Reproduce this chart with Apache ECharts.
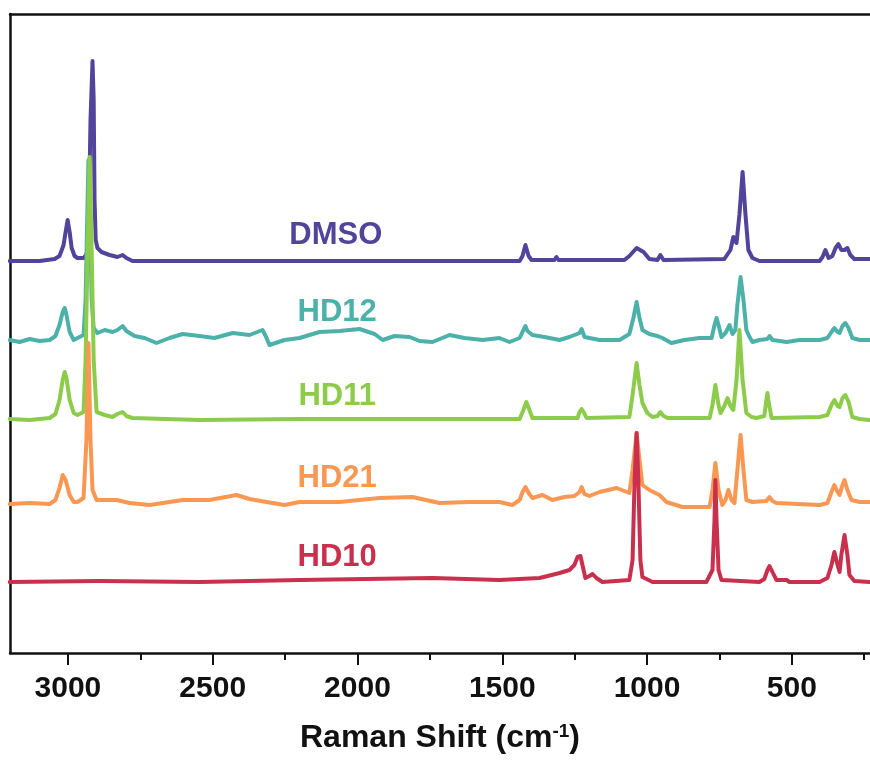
<!DOCTYPE html>
<html>
<head>
<meta charset="utf-8">
<script src="https://cdn.jsdelivr.net/npm/echarts@6/dist/echarts.min.js"></script>
<style>
  html, body { margin: 0; padding: 0; background: #fff; }
  #chart { width: 870px; height: 764px; }
</style>
</head>
<body>
<div id="chart"></div>
<script>
// Raman spectra, [wavenumber, intensity] (intensity in arbitrary offset units)
const dmso = [[3201,392],[3098,392],[3046,394],[3029,397],[3015,408],[3008,421],[3001,433],[2994,421],[2987,405],[2977,397],[2967,395],[2946,395],[2936,398],[2929,413],[2922,533],[2915,592],[2911,553],[2908,453],[2904,413],[2898,405],[2884,401],[2856,398],[2829,396],[2811,398],[2798,395],[2777,392],[2200,392],[1440,392],[1430,397],[1420,408],[1409,397],[1399,393],[1320,393],[1313,396],[1306,393],[1078,393],[1061,397],[1036,405],[1012,401],[992,394],[964,393],[954,398],[943,393],[733,394],[712,403],[702,416],[691,410],[681,438],[670,481],[660,438],[650,403],[636,395],[612,392],[404,392],[394,396],[384,403],[373,395],[360,397],[349,405],[339,409],[329,403],[318,403],[308,405],[298,398],[284,394],[232,394],[197,394]];

const hd12 = [[3201,313],[3167,311],[3132,314],[3098,312],[3063,313],[3043,317],[3029,328],[3018,341],[3011,345],[3005,338],[2994,321],[2980,313],[2967,315],[2946,318],[2939,353],[2932,453],[2929,493],[2925,453],[2918,353],[2911,325],[2898,320],[2873,323],[2846,321],[2829,323],[2811,327],[2798,322],[2770,317],[2735,315],[2694,310],[2649,315],[2604,319],[2545,317],[2494,315],[2431,320],[2373,318],[2328,323],[2317,317],[2304,308],[2252,313],[2200,315],[2131,321],[2062,322],[1993,324],[1941,319],[1913,313],[1872,317],[1820,316],[1786,312],[1741,311],[1682,318],[1630,315],[1568,313],[1510,315],[1475,311],[1440,315],[1427,323],[1420,327],[1413,322],[1396,318],[1354,316],[1302,313],[1268,316],[1233,320],[1226,324],[1216,316],[1164,313],[1095,313],[1061,319],[1047,335],[1036,351],[1026,335],[1016,323],[992,319],[964,317],[947,315],[916,310],[871,313],[819,315],[777,315],[767,328],[760,335],[753,328],[743,316],[729,320],[715,328],[705,319],[695,323],[688,348],[677,376],[667,353],[657,323],[646,316],[636,311],[612,313],[584,314],[577,317],[567,313],[518,311],[474,313],[404,313],[377,315],[363,321],[353,325],[342,321],[335,320],[325,327],[315,330],[304,325],[291,315],[266,313],[232,313],[197,313]];

const hd11 = [[3201,234],[3132,233],[3063,235],[3043,239],[3029,253],[3018,273],[3011,281],[3005,275],[2994,253],[2980,240],[2967,238],[2946,241],[2939,293],[2932,403],[2925,496],[2918,403],[2911,293],[2901,241],[2873,238],[2846,236],[2829,239],[2811,241],[2798,237],[2777,235],[2545,233],[2200,234],[1855,234],[1440,234],[1427,243],[1417,251],[1406,243],[1396,235],[1240,235],[1233,241],[1226,244],[1219,241],[1209,235],[1061,236],[1050,258],[1036,290],[1026,268],[1016,250],[999,240],[981,236],[964,237],[954,241],[943,237],[929,235],[784,235],[774,248],[764,268],[753,248],[746,240],[733,247],[722,255],[712,247],[702,243],[691,273],[681,323],[670,273],[657,240],[639,236],[622,235],[595,237],[588,253],[584,260],[581,253],[570,235],[404,236],[377,238],[363,248],[353,253],[342,247],[335,246],[325,255],[315,258],[304,251],[291,236],[266,234],[232,233],[197,233]];

const hd21 = [[3201,149],[3132,150],[3063,149],[3043,153],[3029,165],[3018,178],[3008,173],[2994,158],[2980,151],[2967,151],[2946,155],[2936,213],[2929,310],[2922,213],[2915,163],[2901,153],[2873,153],[2832,153],[2787,150],[2718,148],[2649,151],[2604,153],[2511,153],[2418,158],[2373,154],[2314,151],[2252,148],[2200,151],[2062,151],[1924,155],[1810,156],[1717,150],[1613,151],[1510,151],[1465,148],[1440,153],[1430,161],[1420,166],[1409,160],[1396,155],[1361,158],[1327,153],[1285,156],[1251,157],[1233,161],[1226,166],[1216,159],[1199,157],[1164,161],[1105,165],[1061,160],[1050,183],[1036,220],[1026,193],[1016,168],[992,163],[957,158],[933,151],[878,146],[784,146],[774,163],[764,190],[753,163],[740,148],[729,153],[719,163],[708,153],[698,150],[688,183],[677,218],[667,183],[657,153],[636,151],[588,152],[577,156],[567,152],[553,150],[404,148],[377,150],[363,161],[353,168],[342,161],[335,158],[325,168],[318,173],[308,163],[294,153],[266,151],[232,151],[197,151]];

const hd10 = [[3201,71],[2891,72],[2545,71],[2200,73],[1741,75],[1510,73],[1371,75],[1302,80],[1268,83],[1251,88],[1240,96],[1230,97],[1223,88],[1213,75],[1199,77],[1188,79],[1175,75],[1154,71],[1061,73],[1050,93],[1043,173],[1036,220],[1030,173],[1023,93],[1016,76],[981,71],[795,71],[774,83],[767,133],[764,173],[760,133],[753,83],[743,73],[612,71],[595,74],[584,83],[577,87],[567,81],[553,73],[518,73],[508,71],[404,71],[377,75],[363,88],[353,101],[342,88],[335,81],[329,98],[318,118],[308,98],[301,78],[284,72],[232,71],[197,71]];

const names = ['DMSO', 'HD12', 'HD11', 'HD21', 'HD10'];
const colors = ['#53449b', '#4cb2a9', '#8ccc4a', '#fa9752', '#c9304d'];
const labelX = [2075, 2070, 2070, 2070, 2070];
const labelY = [418, 341, 257, 175, 96];
const majorTicks = [500, 1000, 1500, 2000, 2500, 3000];
const minorTicks = [250, 750, 1250, 1750, 2250, 2750];

const spectra = [dmso, hd12, hd11, hd21, hd10];
const font = 'Liberation Sans, Arial, sans-serif';
const xMin = 230;   // right edge of the canvas cuts the frame
const xMax = 3200;

let chart = echarts.init(document.getElementById('chart'));
chart.setOption({
  animation: false,
  grid: {
    left: 10,
    right: 0,
    top: 14,
    bottom: 111
  },
  xAxis: [
    {
      type: 'value',
      min: xMin,
      max: xMax,
      inverse: true,
      name: 'Raman Shift (cm{sup|-1})',
      nameLocation: 'middle',
      nameGap: 69,
      nameTextStyle: {
        fontFamily: font,
        fontSize: 32,
        fontWeight: 'bold',
        color: '#111',
        rich: {
          sup: { fontFamily: font, fontSize: 19, fontWeight: 'bold', color: '#111', verticalAlign: 'top', padding: [0, 0, 12, 0] }
        }
      },
      axisLine: { show: true, lineStyle: { color: '#111', width: 2.5 } },
      axisTick: { show: true, customValues: majorTicks, length: 12, lineStyle: { color: '#111', width: 2 } },
      axisLabel: {
        customValues: majorTicks,
        formatter: v => String(v),
        margin: 21,
        fontFamily: font,
        fontSize: 30,
        fontWeight: 'bold',
        color: '#111'
      },
      splitLine: { show: false }
    },
    {
      // minor ticks
      type: 'value',
      min: xMin,
      max: xMax,
      inverse: true,
      position: 'bottom',
      axisLine: { show: false },
      axisTick: { show: true, customValues: minorTicks, length: 7, lineStyle: { color: '#111', width: 2 } },
      axisLabel: { show: false },
      splitLine: { show: false }
    },
    {
      // top frame line
      type: 'value',
      min: xMin,
      max: xMax,
      inverse: true,
      position: 'top',
      axisLine: { show: true, onZero: false, lineStyle: { color: '#111', width: 2.5 } },
      axisTick: { show: false },
      axisLabel: { show: false },
      splitLine: { show: false }
    }
  ],
  yAxis: {
    type: 'value',
    min: 0,
    max: 639,
    axisLine: { show: true, onZero: false, lineStyle: { color: '#111', width: 2.5 } },
    axisTick: { show: false },
    axisLabel: { show: false },
    splitLine: { show: false }
  },
  series: spectra.map((d, i) => ({
    name: names[i],
    type: 'line',
    data: d,
    showSymbol: false,
    lineStyle: { color: colors[i], width: 4, cap: 'round', join: 'round' },
    markPoint: {
      symbol: 'circle',
      symbolSize: 1,
      itemStyle: { color: 'transparent' },
      label: {
        show: true,
        position: 'inside',
        formatter: names[i],
        fontFamily: font,
        fontSize: 31,
        fontWeight: 'bold',
        color: colors[i]
      },
      data: [{ coord: [labelX[i], labelY[i]] }]
    }
  }))
});
</script>
</body>
</html>
